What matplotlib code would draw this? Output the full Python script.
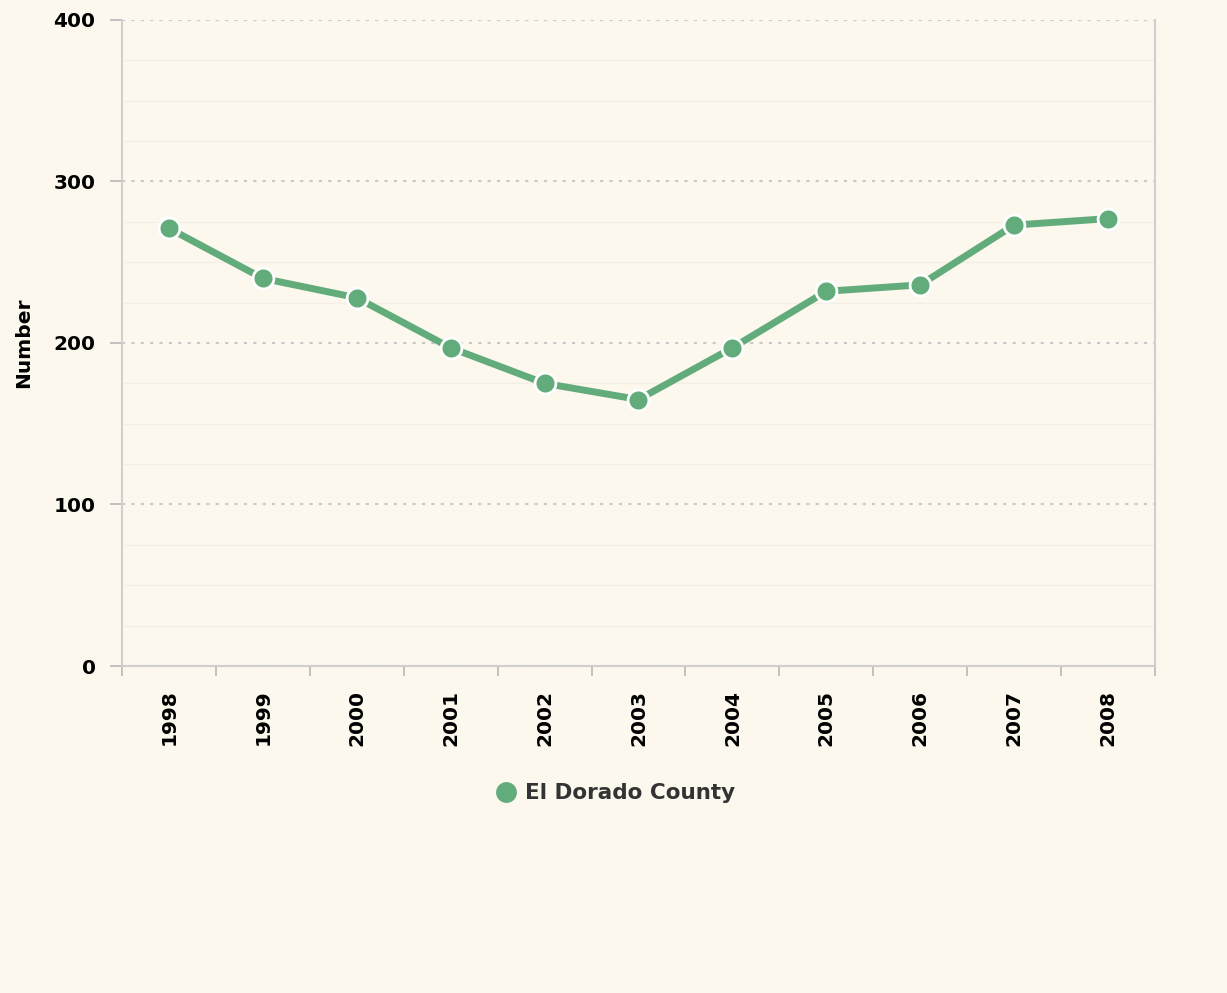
import numpy as np
import matplotlib.pyplot as plt
from matplotlib.ticker import MultipleLocator, FixedLocator

# Data
years = ['1998', '1999', '2000', '2001', '2002', '2003', '2004', '2005', '2006', '2007', '2008']
values = [271, 240, 228, 197, 175, 165, 197, 232, 236, 273, 277]
series_name = 'El Dorado County'

bg = '#fcf8ee'
green = '#62ac7b'

fig = plt.figure(figsize=(12.27, 9.93), dpi=100, facecolor=bg)
ax = fig.add_axes([0.0994, 0.3293, 0.8419, 0.6506], facecolor=bg)

x = np.arange(len(years))
line, = ax.plot(x, values, color=green, lw=5, marker='o', ms=15,
                markerfacecolor=green, markeredgecolor='white', markeredgewidth=2,
                solid_capstyle='round', zorder=5, label=series_name)

ax.set_xlim(-0.5, len(years) - 0.5)
ax.set_ylim(0, 400)

# y axis ticks and grid
ax.yaxis.set_major_locator(MultipleLocator(100))
ax.yaxis.set_minor_locator(MultipleLocator(25))
ax.grid(axis='y', which='major', color='#c8c8c8', lw=1.5, ls=(0, (1.5, 3)))
ax.grid(axis='y', which='minor', color='#f3efe4', lw=1)
ax.tick_params(axis='y', which='major', length=9, width=1.2, color='#b8b8b8',
               labelsize=14.5, pad=10)
ax.tick_params(axis='y', which='minor', length=0)

# x axis: labels centered, ticks at category boundaries
ax.set_xticks(x)
ax.set_xticklabels(years, rotation=90, fontsize=14.5, fontweight='bold')
ax.tick_params(axis='x', which='major', length=0, pad=17)
ax.xaxis.set_minor_locator(FixedLocator(np.arange(-0.5, len(years), 1)))
ax.tick_params(axis='x', which='minor', length=7, width=1.2, color='#b8b8b8')

for lab in ax.get_yticklabels():
    lab.set_fontweight('bold')

for side in ['left', 'right', 'bottom']:
    ax.spines[side].set_color('#cfcfcf')
    ax.spines[side].set_linewidth(1.5)
ax.spines['top'].set_visible(False)

ax.set_ylabel('Number', fontsize=14.5, fontweight='bold', labelpad=15)

leg = fig.legend(handles=[line], loc='center', bbox_to_anchor=(0.506, 0.201),
                 frameon=False, handlelength=0, handletextpad=0.9,
                 prop={'size': 15.5, 'weight': 'bold'})
leg.legend_handles[0].set_linestyle('none')
leg.legend_handles[0].set_markeredgewidth(0)
for t in leg.get_texts():
    t.set_color('#333333')

fig.savefig('out.png', dpi=100, facecolor=bg)
